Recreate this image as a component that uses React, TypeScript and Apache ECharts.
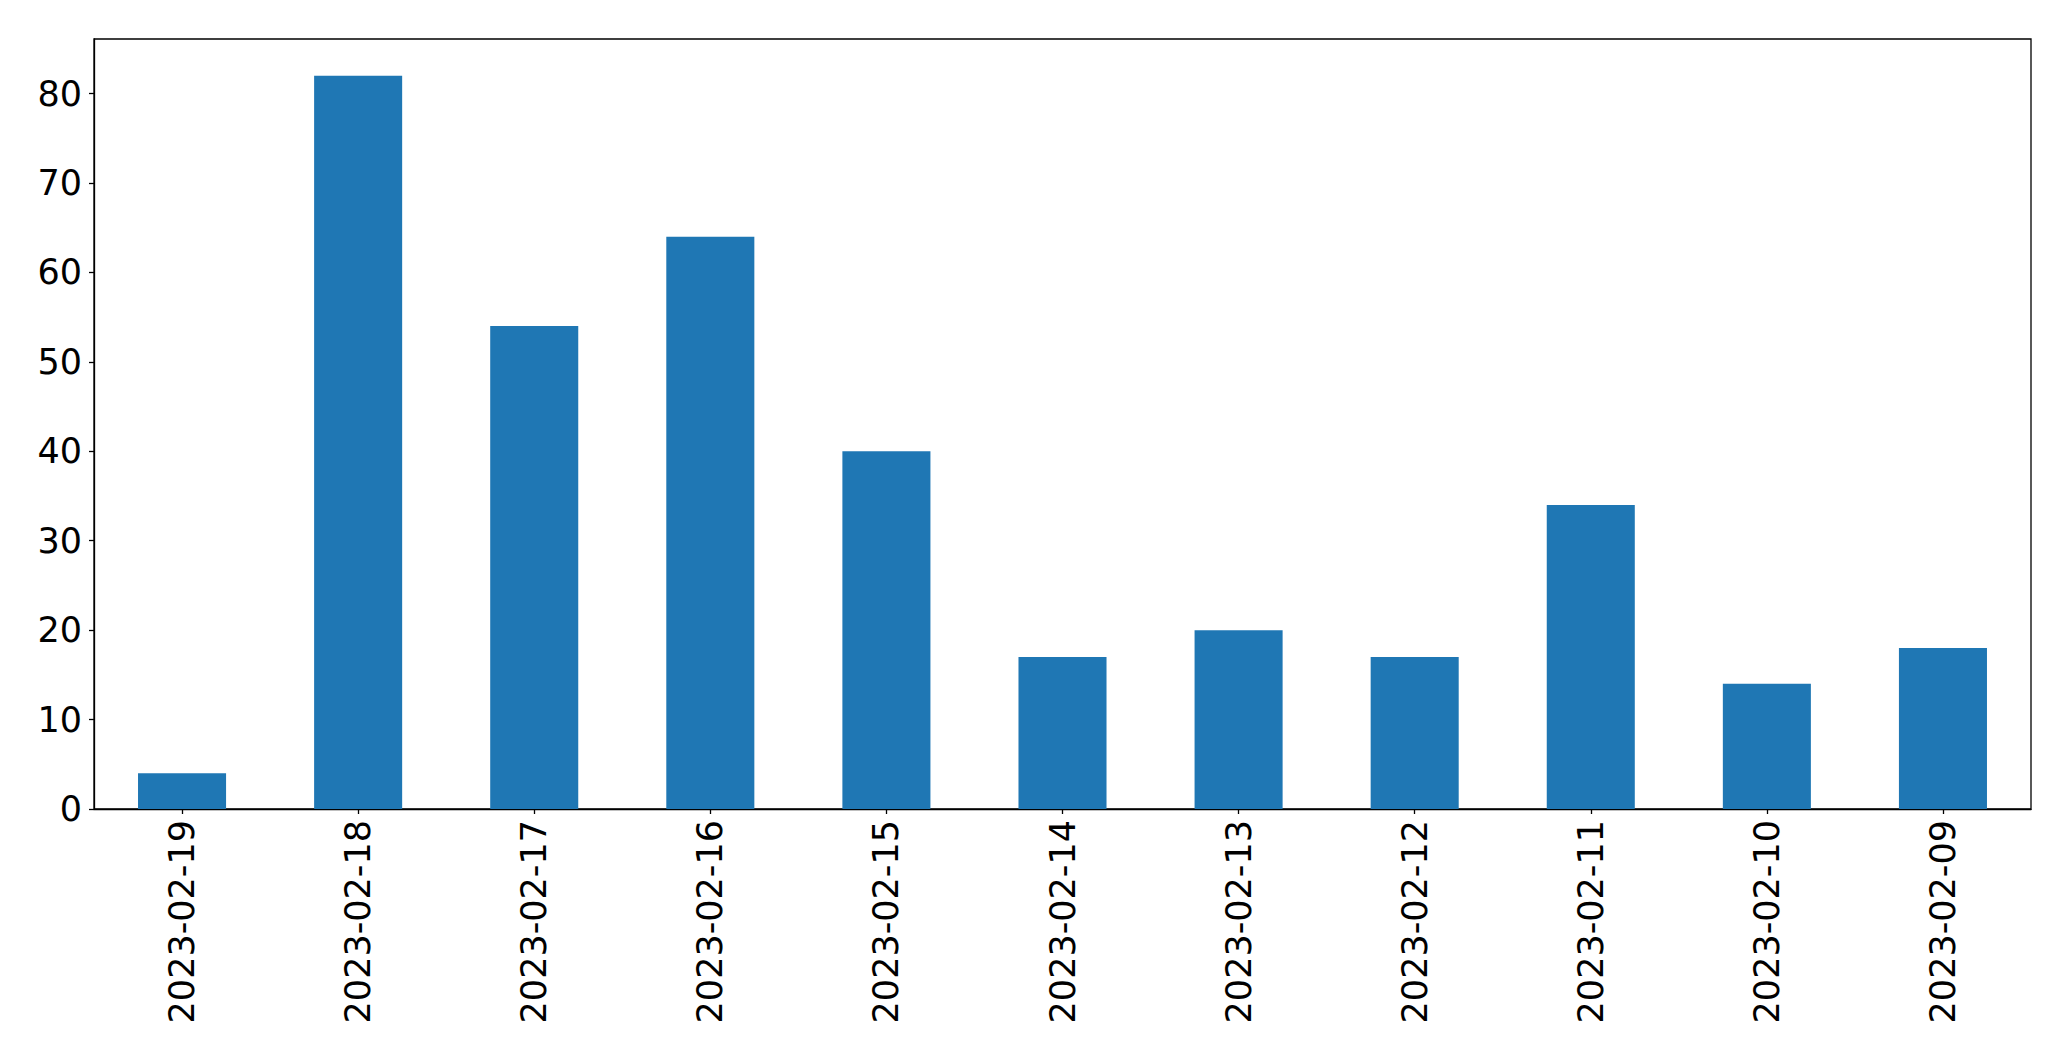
import React, { useEffect, useRef } from "react";
import * as echarts from "echarts";

const categories = [
  "2023-02-19",
  "2023-02-18",
  "2023-02-17",
  "2023-02-16",
  "2023-02-15",
  "2023-02-14",
  "2023-02-13",
  "2023-02-12",
  "2023-02-11",
  "2023-02-10",
  "2023-02-09",
];
const values = [4, 82, 54, 64, 40, 17, 20, 17, 34, 14, 18];
const yTicks = [0, 10, 20, 30, 40, 50, 60, 70, 80];

export default function App() {
  const ref = useRef<HTMLDivElement>(null);
  useEffect(() => {
    document.body.style.margin = "0";
    const chart = echarts.init(ref.current!, null, { renderer: "svg" });
    const font = "DejaVu Sans";
    const yMax = Math.max(...values) * 1.05;
    chart.setOption({
      animation: false,
      backgroundColor: "#ffffff",
      grid: {
        left: 94,
        top: 39,
        right: 40,
        bottom: 252,
        show: true,
        borderColor: "#000000",
        borderWidth: 1.3,
        backgroundColor: "transparent",
      },
      xAxis: {
        type: "category",
        data: categories,
        boundaryGap: true,
        axisLine: { show: true, lineStyle: { color: "#000", width: 1.3 } },
        axisTick: {
          show: true,
          alignWithLabel: true,
          length: 5,
          lineStyle: { color: "#000", width: 1.3 },
        },
        axisLabel: {
          rotate: 90,
          margin: 11,
          fontSize: 35,
          fontFamily: font,
          color: "#000",
        },
        splitLine: { show: false },
      },
      yAxis: {
        type: "value",
        min: 0,
        max: yMax,
        interval: 10,
        axisLine: { show: true, lineStyle: { color: "#000", width: 1.3 } },
        axisTick: {
          show: true,
          length: 5,
          customValues: yTicks,
          lineStyle: { color: "#000", width: 1.3 },
        },
        axisLabel: {
          margin: 12,
          fontSize: 35,
          fontFamily: font,
          color: "#000",
          customValues: yTicks,
        },
        splitLine: { show: false },
      },
      series: [
        {
          type: "bar",
          data: values,
          barWidth: "50%",
          itemStyle: { color: "#1f77b4" },
        },
      ],
    });
    return () => chart.dispose();
  }, []);
  return <div ref={ref} style={{ width: 2071, height: 1061 }} />;
}
